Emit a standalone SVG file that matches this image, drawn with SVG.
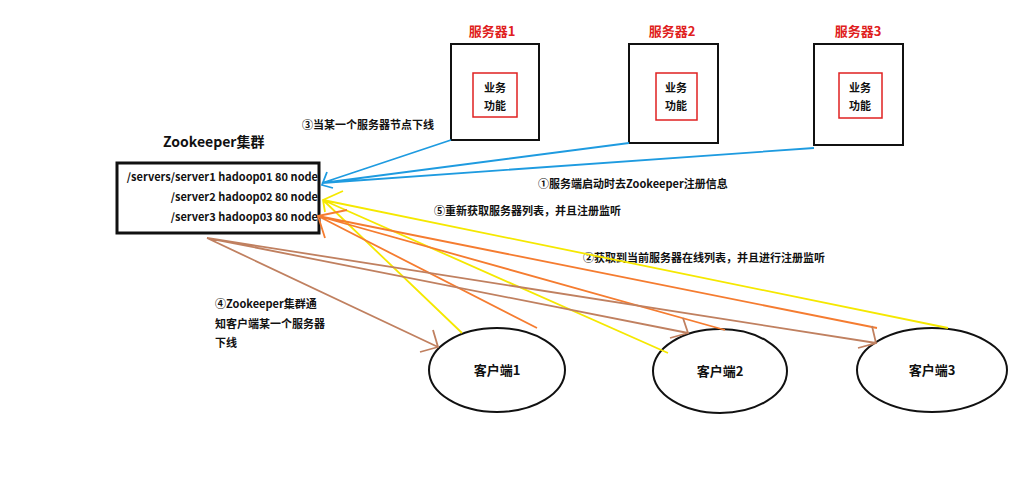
<svg xmlns="http://www.w3.org/2000/svg" width="1026" height="500" viewBox="0 0 1026 500">
<style>
text{font-family:"Noto Sans CJK SC","Noto Sans",sans-serif;font-weight:bold;fill:#111}
.t{font-size:11px}
.red{fill:#e02020;font-size:13px}
.box{fill:none;stroke:#111;stroke-width:2}
.inner{fill:none;stroke:#e02020;stroke-width:1.5}
.ell{fill:none;stroke:#111;stroke-width:2}
.b{stroke:#1e9be0;stroke-width:1.8;fill:none}
.y{stroke:#f5e800;stroke-width:1.8;fill:none}
.o{stroke:#f57c30;stroke-width:1.8;fill:none}
.br{stroke:#c08060;stroke-width:1.8;fill:none}
</style>
<rect width="1026" height="500" fill="#fff"/>
<g id="server1"><rect class="box" x="451" y="44" width="88" height="96"/><rect class="inner" x="473" y="73" width="44" height="44"/><text class="red" x="492" y="36" text-anchor="middle">服务器1</text><text class="t" x="495" y="92" text-anchor="middle">业务</text><text class="t" x="495" y="110" text-anchor="middle">功能</text></g>
<g id="server2"><rect class="box" x="629" y="44" width="89" height="99"/><rect class="inner" x="656" y="73" width="41" height="47"/><text class="red" x="672" y="36" text-anchor="middle">服务器2</text><text class="t" x="676" y="92" text-anchor="middle">业务</text><text class="t" x="676" y="110" text-anchor="middle">功能</text></g>
<g id="server3"><rect class="box" x="814" y="44" width="89" height="101"/><rect class="inner" x="839" y="73" width="43" height="45"/><text class="red" x="858" y="36" text-anchor="middle">服务器3</text><text class="t" x="860" y="92" text-anchor="middle">业务</text><text class="t" x="860" y="110" text-anchor="middle">功能</text></g>
<g id="zk"><text x="163" y="147" font-size="14">Zookeeper集群</text><rect x="117" y="163" width="202" height="70" fill="none" stroke="#111" stroke-width="3"/><text class="t" x="318" y="181" text-anchor="end">/servers/server1 hadoop01 80 node</text><text class="t" x="318" y="201" text-anchor="end">/server2 hadoop02 80 node</text><text class="t" x="318" y="221" text-anchor="end">/server3 hadoop03 80 node</text></g>
<g id="client1"><ellipse class="ell" cx="497" cy="370" rx="68" ry="42"/><text x="497" y="375" font-size="13" text-anchor="middle">客户端1</text></g>
<g id="client2"><ellipse class="ell" cx="720" cy="371" rx="67" ry="42"/><text x="720" y="376" font-size="13" text-anchor="middle">客户端2</text></g>
<g id="client3"><ellipse class="ell" cx="932" cy="370" rx="75" ry="42"/><text x="932" y="375" font-size="13" text-anchor="middle">客户端3</text></g>
<g id="labels">
<text class="t" x="302" y="129">③当某一个服务器节点下线</text>
<text class="t" x="538" y="188">①服务端启动时去Zookeeper注册信息</text>
<text class="t" x="434" y="215" font-size="10">⑤重新获取服务器列表，并且注册监听</text>
<text class="t" x="583" y="262" font-size="10">②获取到当前服务器在线列表，并且进行注册监听</text>
<text class="t" x="215" y="308">④Zookeeper集群通</text>
<text class="t" x="215" y="328">知客户端某一个服务器</text>
<text class="t" x="215" y="347">下线</text>
</g>
<g id="connectors">
<path class="b" d="M451 140L322 183M629 143L322 183M814 148L322 183M327 172L322 185L333 188"/>
<path class="y" d="M462 333L323 200M668 353L323 200M948 328L323 200M343 191L323 200L325 212"/>
<path class="o" d="M537 328L318 216M725 330L318 216M877 328L318 216M347 210L318 216L325 238"/>
<path class="br" d="M207 238L438 347M207 238L688 333M207 238L876 343M433 330L438 347L420 352M683 318L688 333L670 338M872 326L876 343L858 348"/>
</g>
</svg>
